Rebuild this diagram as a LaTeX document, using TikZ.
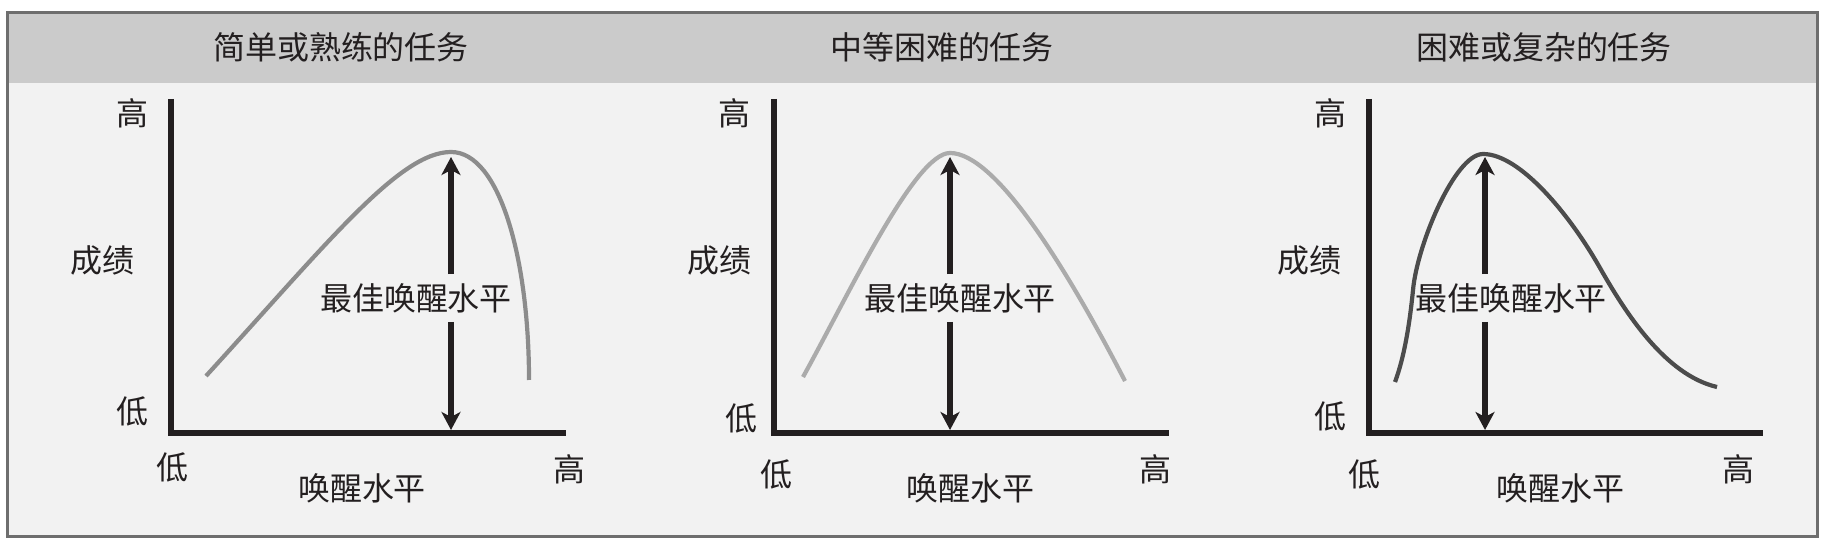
\documentclass[tikz,border=0pt]{standalone}
\usepackage{fontspec}
\newfontfamily\cjk{Noto Sans CJK SC}
\usetikzlibrary{arrows.meta}
\definecolor{framegray}{HTML}{6E6E6E}
\definecolor{headgray}{HTML}{CBCBCB}
\definecolor{bodygray}{HTML}{F2F2F2}
\definecolor{inkblack}{HTML}{231F20}
\tikzset{
  lbl/.style={font=\cjk\fontsize{9.1}{11}\selectfont, text=inkblack, inner sep=0pt},
  optlbl/.style={lbl, inner ysep=0.85mm},
  axisline/.style={draw=inkblack, line width=0.65mm, line join=miter},
  optarrow/.style={draw=inkblack, line width=0.65mm, -{Stealth[length=1.8mm,width=1.9mm,inset=0.5mm]}},
  curve/.style={line width=0.42mm, line cap=butt},
}
\begin{document}
\begin{tikzpicture}[x=0.1mm, y=-0.1mm]
    \useasboundingbox (0,0) rectangle (1824,546);
    % frame and header band
    \fill[bodygray] (7,13) rectangle (1817,536);
    \fill[headgray] (7,13) rectangle (1817,83);
    \draw[framegray, line width=0.3mm] (7,13) rectangle (1817,536);

    % simple or well-learned task
    \node[lbl] (title1) at (341,47) {简单或熟练的任务};
    \coordinate (top1) at (451,157);
    \coordinate (base1) at (451,430);
    \draw[axisline] (171,99) -- (171,433) -- (566,433);
    \draw[curve, color=black!45] (206,376) .. controls (330,240) and (400,152) .. (451,152)
        .. controls (500,152) and (529,260) .. (529,380);
    \node[lbl] (yhigh1) at (132,113) {高};
    \node[lbl] (ytext1) at (102,260) {成绩};
    \node[lbl] (ylow1) at (132,411) {低};
    \node[lbl] (xlow1) at (172,467) {低};
    \node[lbl] (xhigh1) at (569,469) {高};
    \node[lbl] (xtext1) at (362,488) {唤醒水平};
    \node[optlbl] (opt1) at (416,298) {最佳唤醒水平};
    \draw[optarrow] (opt1.north -| top1) -- (top1);
    \draw[optarrow] (opt1.south -| base1) -- (base1);

    % moderately difficult task
    \node[lbl] (title2) at (942,47) {中等困难的任务};
    \coordinate (top2) at (950,157);
    \coordinate (base2) at (950,430);
    \draw[axisline] (774,99) -- (774,433) -- (1169,433);
    \draw[curve, color=black!33] (803,377) .. controls (850,292) and (915,153) .. (950,153)
        .. controls (995,153) and (1065,265) .. (1125,381);
    \node[lbl] (yhigh2) at (734,113) {高};
    \node[lbl] (ytext2) at (719,260) {成绩};
    \node[lbl] (ylow2) at (741,418) {低};
    \node[lbl] (xlow2) at (776,474) {低};
    \node[lbl] (xhigh2) at (1155,469) {高};
    \node[lbl] (xtext2) at (970,488) {唤醒水平};
    \node[optlbl] (opt2) at (960,298) {最佳唤醒水平};
    \draw[optarrow] (opt2.north -| top2) -- (top2);
    \draw[optarrow] (opt2.south -| base2) -- (base2);

    % difficult or complex task
    \node[lbl] (title3) at (1544,47) {困难或复杂的任务};
    \coordinate (top3) at (1485,157);
    \coordinate (base3) at (1485,430);
    \draw[axisline] (1369,99) -- (1369,433) -- (1763,433);
    \draw[curve, color=black!70] (1395,382) .. controls (1405,355) and (1410,320) .. (1413,290)
        .. controls (1417,245) and (1455,154) .. (1483,154)
        .. controls (1520,154) and (1570,215) .. (1600,268)
        .. controls (1625,312) and (1665,375) .. (1717,387);
    \node[lbl] (yhigh3) at (1330,113) {高};
    \node[lbl] (ytext3) at (1309,260) {成绩};
    \node[lbl] (ylow3) at (1330,416) {低};
    \node[lbl] (xlow3) at (1364,474) {低};
    \node[lbl] (xhigh3) at (1738,469) {高};
    \node[lbl] (xtext3) at (1560,488) {唤醒水平};
    \node[optlbl] (opt3) at (1511,298) {最佳唤醒水平};
    \draw[optarrow] (opt3.north -| top3) -- (top3);
    \draw[optarrow] (opt3.south -| base3) -- (base3);
\end{tikzpicture}
\end{document}
